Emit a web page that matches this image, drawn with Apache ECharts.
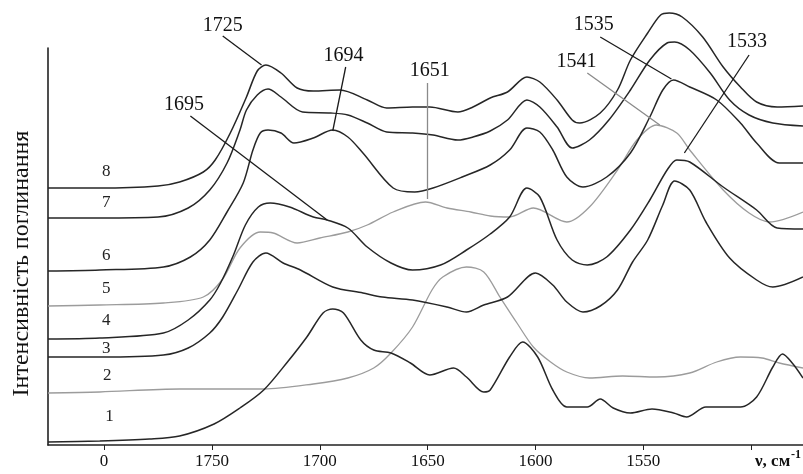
<!DOCTYPE html>
<html><head><meta charset="utf-8">
<script src="https://cdn.jsdelivr.net/npm/echarts@6/dist/echarts.min.js"></script>
<style>html,body{margin:0;padding:0;background:#fff}#c{width:803px;height:474px}</style>
</head><body><div id="c"></div>
<script>
// x: wavenumber (cm^-1), y: absorption intensity (arbitrary units, stacked spectra)
const xTicks = [1800, 1750, 1700, 1650, 1600, 1550, 1500];
const xTickLabels = [1800, 1750, 1700, 1650, 1600, 1550];
const curve1 = [[1826,3],[1802,4],[1779,6],[1765,9],[1749,21],[1737,37],[1726,55],[1715,83],[1706,108],[1698.5,132],[1694,136],[1689,132],[1681,105],[1675,95],[1667,92],[1658,82],[1649,70],[1638,77],[1632,68],[1624,53],[1621,55],[1612,88],[1606,103],[1599,88],[1592,55],[1585.5,38],[1576,38],[1570,46],[1564,37],[1556,32],[1546,36],[1536,32],[1530,28],[1521,38],[1505,38],[1497.5,48],[1490,78],[1485.5,91],[1481,82],[1476,67]];
const curve2 = [[1826,52],[1802,53],[1765,56],[1726,56],[1703,61],[1687,67],[1675,77],[1667,92],[1657,118],[1648,155],[1643,168],[1632,178],[1624,173],[1616.5,148],[1608.6,122],[1601,98],[1593,83],[1585.5,73],[1575,67],[1559.6,69],[1544,68],[1528.5,72],[1516,83],[1505,88],[1495,87],[1487,82],[1476,77]];
const curve3 = [[1826,88],[1802,88],[1772.5,90],[1761,97],[1751,112],[1745,128],[1738,155],[1731,183],[1725,192],[1717,182],[1709,175],[1694,158],[1680,152],[1671,148],[1657,145],[1641,138],[1632,133],[1624,140],[1613,148],[1600,172],[1592,160],[1585.5,143],[1578,133],[1570,139],[1562,155],[1555,183],[1548,205],[1541,240],[1535.5,264],[1528.5,255],[1521,223],[1510,187],[1497.5,165],[1490,158],[1476,168]];
const curve4 = [[1826,106],[1802,107],[1772.5,112],[1761,125],[1751,145],[1746,162],[1740,190],[1734.5,220],[1728.5,238],[1723,242],[1714,238],[1703,228],[1696.6,225],[1687,217],[1678,198],[1667,182],[1657,175],[1644,180],[1632,195],[1621,211],[1612,228],[1604,257],[1598,248],[1590,205],[1583,185],[1576,180],[1567,188],[1556,215],[1547,245],[1539,275],[1534.5,285],[1528.5,283],[1513,258],[1497.5,235],[1488,217],[1476,216]];
const curve5 = [[1826,139],[1802,140],[1772.5,142],[1754,148],[1745,166],[1737,197],[1727.6,213],[1721.6,212],[1710.5,202],[1700,207],[1687,213],[1678,220],[1666,233],[1651,243],[1641,237],[1630,233],[1621,229],[1612,228],[1601,237],[1585.5,223],[1575,238],[1562,275],[1553,305],[1544,320],[1534.5,312],[1528.5,295],[1513,255],[1501,232],[1491.5,223],[1476,233]];
const curve6 = [[1826,174],[1802,175],[1772.5,178],[1760,188],[1751,205],[1743,233],[1735.5,262],[1731,295],[1727.6,312],[1724,315],[1718,312],[1712,302],[1703,307],[1694,315],[1687,308],[1680,292],[1666,257],[1656,253],[1647.5,257],[1634,268],[1621,280],[1612,295],[1604,317],[1598,313],[1592,295],[1585.5,268],[1578,258],[1567,268],[1556,292],[1547,328],[1541,355],[1536,365],[1528.5,358],[1516,345],[1505,322],[1497.5,302],[1487,282],[1476,282]];
const curve7 = [[1826,227],[1802,227],[1775,228],[1761,237],[1751,255],[1743,282],[1737,315],[1734,335],[1729,350],[1724,356],[1718,348],[1708,333],[1695,332],[1687,330],[1678,322],[1669,313],[1657,312],[1647.5,310],[1636,305],[1629,308],[1621,314],[1613,325],[1604,345],[1598,338],[1590,318],[1583,297],[1575,305],[1566,325],[1556,355],[1547,385],[1539,402],[1535.5,403],[1528.5,395],[1519,372],[1510,345],[1501,330],[1490,322],[1476,319]];
const curve8 = [[1826,257],[1802,257],[1775,259],[1765,263],[1754,273],[1748.5,285],[1741.5,312],[1734,348],[1729,374],[1725,380],[1718,372],[1710.5,357],[1703,354],[1690.6,355],[1678,345],[1669,337],[1657,338],[1649,338],[1636,333],[1629,338],[1621,347],[1613,353],[1604,368],[1598,363],[1590,345],[1583,325],[1579.5,322],[1570,332],[1562,355],[1556,385],[1548,412],[1542,430],[1538,432],[1532,428],[1522.5,408],[1513,378],[1505,358],[1497.5,343],[1488,338],[1476,339]];
const curves = [curve1, curve2, curve3, curve4, curve5, curve6, curve7, curve8];
const curveNames = ['1','2','3','4','5','6','7','8'];
const curveNamePos = [[1797.5,28],[1798.5,69],[1799,96],[1799,124],[1799,156],[1799,189],[1799,242],[1799,273]];
const lightCurves = ['2','5'];
// annotations: peak label, label anchor, arrow start, arrow end, curve it belongs to
const annText  = ['1725','1694','1651','1695','1541','1535','1533'];
const annLabel = [[1745,419],[1689,389],[1649,374],[1763,340],[1581,383],[1573,420],[1502,403]];
const annFrom  = [[1745,409],[1688,378],[1650,362],[1760,329],[1576,372],[1570,408],[1501,390]];
const annTo    = [[1727,380],[1694,314],[1650,246],[1696.6,225],[1542.4,320],[1537,366],[1531,292]];
const annCurve = ['8','6','5','4','5','6','4'];
const yAxisTop = 397;   // visible extent of the intensity axis line

const FONT = 'Liberation Serif';
const DARK = '#262626', LIGHT = '#9c9c9c';

const series = curves.map((data, i) => {
  const name = curveNames[i];
  const light = lightCurves.includes(name);
  const col = light ? LIGHT : DARK;
  const mlData = [], mpData = [{name: name, coord: curveNamePos[i],
      label: {fontSize: 17, color: '#222'}}];
  annText.forEach((t, k) => {
    if (annCurve[k] !== name) return;
    mlData.push([{coord: annFrom[k]}, {coord: annTo[k]}]);
    mpData.push({name: t, coord: annLabel[k], label: {fontSize: 20, color: '#111'}});
  });
  return {
    type: 'line', name: name, data: data, smooth: 0.3,
    showSymbol: false, clip: false,
    xAxisIndex: 0, yAxisIndex: 0,
    lineStyle: {color: col, width: light ? 1.3 : 1.5},
    itemStyle: {color: col},
    z: light ? 2 : 3,
    markLine: {
      silent: true, animation: false, symbol: ['none', 'arrow'], symbolSize: [0, 8],
      label: {show: false},
      lineStyle: {color: light ? '#8a8a8a' : '#1a1a1a', width: 1.3, type: 'solid'},
      emphasis: {disabled: true},
      data: mlData
    },
    markPoint: {
      silent: true, animation: false, symbol: 'circle', symbolSize: 1,
      itemStyle: {color: 'rgba(0,0,0,0)'},
      label: {show: true, position: 'inside', formatter: '{b}', fontFamily: FONT},
      data: mpData
    }
  };
});

const chart = echarts.init(document.getElementById('c'), null, {renderer: 'canvas'});
chart.setOption({
  animation: false,
  backgroundColor: '#fff',
  grid: [
    {left: 48, right: 0, top: 0, bottom: 29, containLabel: false},
    {left: 48, width: 1, top: 474 - 29 - yAxisTop, bottom: 29, containLabel: false}
  ],
  xAxis: [{
    gridIndex: 0, type: 'value', inverse: true, min: 1476, max: 1826,
    axisLine: {show: true, onZero: false, lineStyle: {color: '#222', width: 1.6}},
    axisTick: {show: true, length: 5, customValues: xTicks, lineStyle: {color: '#222', width: 1}},
    axisLabel: {show: true, customValues: xTickLabels, margin: 8, fontFamily: FONT, fontSize: 17, color: '#111',
      formatter: v => (v === 1800 ? '0' : String(v))},
    splitLine: {show: false}
  }, {
    gridIndex: 1, type: 'value', show: false, min: 0, max: 1
  }],
  yAxis: [{
    gridIndex: 0, type: 'value', min: 0, max: 445, show: false
  }, {
    gridIndex: 1, type: 'value', min: 0, max: yAxisTop,
    name: 'Інтенсивність поглинання', nameLocation: 'middle', nameGap: 14, nameRotate: 90,
    nameTextStyle: {fontFamily: FONT, fontSize: 24, color: '#111', padding: [0, 34, 0, 0]},
    axisLine: {show: true, onZero: false, lineStyle: {color: '#222', width: 1.6}},
    axisTick: {show: false}, axisLabel: {show: false}, splitLine: {show: false}
  }],
  graphic: [
    {type: 'text', left: 755, top: 453, style: {text: 'ν, см', font: 'bold 17px "Liberation Serif"', fill: '#111'}},
    {type: 'text', left: 791, top: 449, style: {text: '-1', font: 'bold 12px "Liberation Serif"', fill: '#111'}}
  ],
  series: series
});
</script></body></html>
